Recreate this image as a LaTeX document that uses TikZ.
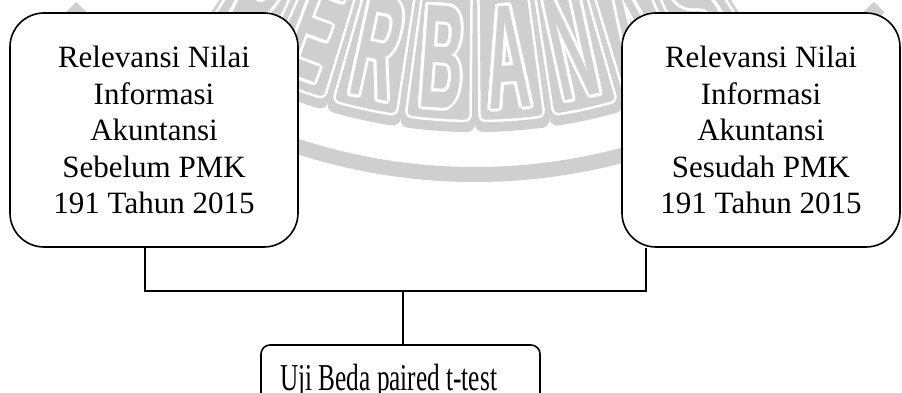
\documentclass[tikz,border=0pt]{standalone}
\usepackage{fontspec}
\usepackage{graphicx}
\setmainfont{Liberation Serif}
\newfontfamily\wmfont{Liberation Sans}
\usetikzlibrary{calc}
\definecolor{wmgray}{RGB}{207,207,207}
\begin{document}
\begin{tikzpicture}[x=1pt,y=1pt,
  box/.style={draw, line width=1.6pt, fill=white, rounded corners=34pt,
    align=center, inner sep=0pt, font=\fontsize{31}{36.5}\selectfont},
  testbox/.style={draw, line width=1.6pt, fill=white, rounded corners=9pt,
    inner sep=0pt},
  testlabel/.style={inner sep=0pt, anchor=base west,
    font=\fontsize{38}{44}\selectfont},
  link/.style={line width=1.6pt},
  wmletter/.style={font=\wmfont\bfseries\fontsize{100}{100}\selectfont,
    inner sep=0pt, xscale=0.6, yscale=1.48}]
\useasboundingbox (0,0) rectangle (902,392);

% faint seal in the background: lettered cells on a large circle and a ring
\begin{scope}[shift={(475,789)}]
  \fill[wmgray] (-135:564) arc[start angle=-135, end angle=-45, radius=564]
    -- (-45:579) arc[start angle=-45, end angle=-135, radius=579] -- cycle;
  \foreach \i/\ch in {0/P,1/E,2/R,3/B,4/A,5/N,6/A,7/S} {
    \pgfmathsetmacro\t{-90+(\i-3.5)*8.2}
    \pgfmathsetmacro\ta{\t-4.1}
    \pgfmathsetmacro\tb{\t+4.1}
    \pgfmathsetmacro\tc{\t-3.6}
    \pgfmathsetmacro\td{\t+3.6}
    \fill[wmgray, rounded corners=8pt] (\ta:330) -- (\ta:529)
      arc[start angle=\ta, end angle=\tb, radius=529] -- (\tb:330) -- cycle;
    \draw[white, line width=2.5pt, rounded corners=6pt] (\tc:335) -- (\tc:518)
      arc[start angle=\tc, end angle=\td, radius=518] -- (\td:335);
    \foreach \k in {0,30,...,330}
      \node[rotate=\t+90, wmletter, text=white] at ([shift={(\k:3)}]\t:455) {\ch};
    \node[rotate=\t+90, wmletter, text=wmgray] at (\t:455) {\ch};
  }
\end{scope}

% the two periods being compared
\node[box, minimum width=288pt, minimum height=234pt] (before) at (154,262)
  {Relevansi Nilai\\Informasi\\Akuntansi\\Sebelum PMK\\191 Tahun 2015};
\node[box, minimum width=278pt, minimum height=234pt] (after) at (761,262)
  {Relevansi Nilai\\Informasi\\Akuntansi\\Sesudah PMK\\191 Tahun 2015};

% the test that joins them
\node[testbox, minimum width=279pt, minimum height=80pt] (test) at (400.5,7) {};
\node[testlabel] (testtext) at (280,2)
  {\scalebox{0.665}[1]{Uji Beda paired t-test}};

\coordinate (jl) at (145,101);
\coordinate (jr) at (646,101);
\coordinate (jm) at (403,101);
\draw[link] (before.south -| jl) -- (jl) -- (jr) -- (after.south -| jr);
\draw[link] (jm) -- (test.north -| jm);
\end{tikzpicture}
\end{document}
